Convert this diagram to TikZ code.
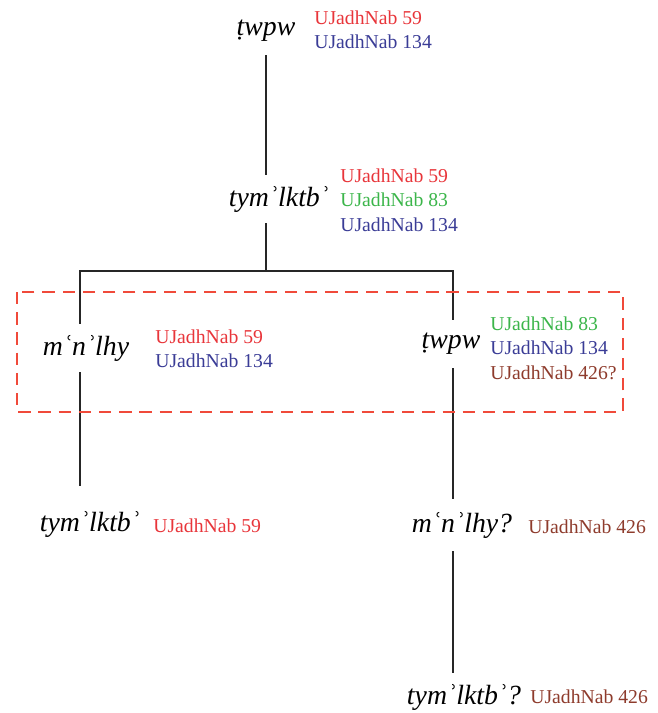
\documentclass[tikz,border=0pt]{standalone}
\usepackage{fontspec}
\setmainfont{Liberation Serif}
\usetikzlibrary{positioning}

\definecolor{srcred}{HTML}{E8353A}
\definecolor{srcgreen}{HTML}{3BB54A}
\definecolor{srcblue}{HTML}{3A3C96}
\definecolor{srcbrown}{HTML}{8E3B2C}
\definecolor{boxred}{HTML}{F04A3A}

\tikzset{
	word/.style={inner sep=0pt, minimum height=0.96cm, font=\fontsize{15.8}{18}\selectfont\itshape},
	refs/.style={anchor=west, inner sep=0pt, align=left, font=\fontsize{11.2}{13.9}\selectfont},
	branch/.style={line width=0.85pt, draw=black!85}
}

\begin{document}
\begin{tikzpicture}[x=0.02cm, y=-0.02cm]
		\useasboundingbox (0,0) rectangle (657,713);
		
		% Coordinates
		\coordinate (split) at (266, 271);
		\coordinate (lsplit) at (80, 271);
		\coordinate (rsplit) at (453, 271);
		
		% Names
		\node[word] (twpwA) at (266, 31) {ṭwpw};
		\node[word] (tymA) at (279, 199) {tymʾlktbʾ};
		\node[word] (mnlA) at (86, 348) {mʿnʾlhy};
		\node[word] (twpwB) at (451, 344) {ṭwpw};
		\node[word, minimum height=1.52cm] (tymB) at (90, 524) {tymʾlktbʾ};
		\node[word, minimum height=1.04cm] (mnlB) at (462, 525) {mʿnʾlhy?};
		\node[word] (tymC) at (464, 697) {tymʾlktbʾ?};
		
		% Sources
		\node[refs] (refA) at (314, 30) {\textcolor{srcred}{UJadhNab 59}\\\textcolor{srcblue}{UJadhNab 134}};
		\node[refs] (refB) at (340, 200) {\textcolor{srcred}{UJadhNab 59}\\\textcolor{srcgreen}{UJadhNab 83}\\\textcolor{srcblue}{UJadhNab 134}};
		\node[refs] (refC) at (155, 349) {\textcolor{srcred}{UJadhNab 59}\\\textcolor{srcblue}{UJadhNab 134}};
		\node[refs] (refD) at (490, 348) {\textcolor{srcgreen}{UJadhNab 83}\\\textcolor{srcblue}{UJadhNab 134}\\\textcolor{srcbrown}{UJadhNab 426?}};
		\node[refs, text=srcred] (refE) at (153, 526) {UJadhNab 59};
		\node[refs, text=srcbrown] (refF) at (528, 527) {UJadhNab 426};
		\node[refs, text=srcbrown] (refG) at (530, 697) {UJadhNab 426};
		
		% Branches
		\draw[branch] (twpwA.south -| split) -- (tymA.north -| split);
		\draw[branch] (tymA.south -| split) -- (split);
		\draw[branch] (mnlA.north -| lsplit) -- (lsplit) -- (rsplit) -- (twpwB.north -| rsplit);
		\draw[branch] (mnlA.south -| lsplit) -- (tymB.north -| lsplit);
		\draw[branch] (twpwB.south -| rsplit) -- (mnlB.north -| rsplit);
		\draw[branch] (mnlB.south -| rsplit) -- (tymC.north -| rsplit);
		
		% Highlight
		\draw[boxred, line width=1.2pt, dash pattern=on 7pt off 4.5pt] (17, 292) rectangle (623, 412);
\end{tikzpicture}
\end{document}
